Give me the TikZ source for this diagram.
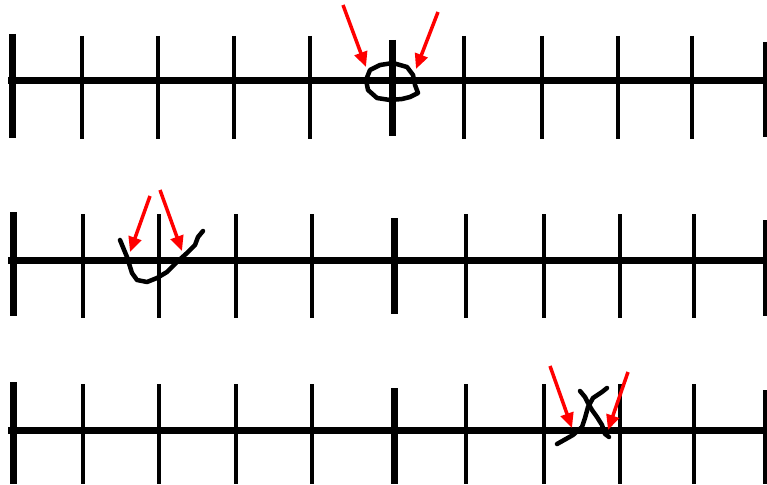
\documentclass[tikz,border=0pt]{standalone}
\usetikzlibrary{arrows.meta}
\tikzset{
  axisline/.style={line width=7pt},
  bigtick/.style={line width=7pt},
  smalltick/.style={line width=4pt},
  scribble/.style={line width=4.5pt, line join=round, line cap=round},
  redarrow/.style={draw=red, line width=3.5pt, -{Triangle[length=15pt,width=13pt]}, shorten >=0pt}
}
\begin{document}
\begin{tikzpicture}[x=1pt,y=-1pt]
\useasboundingbox (0,0) rectangle (767,484);
% Row 1
\draw[axisline] (8,81) -- (767,81);
\draw[bigtick] (12,34) -- (12,138);
\foreach \x in {82,158,234,310,464,542,618,692}{\draw[smalltick] (\x,36) -- (\x,139);}
\draw[bigtick] (392,40) -- (392,136);
\draw[smalltick] (765,42) -- (765,137);
\draw[scribble] (418,93) -- (410,97) -- (402,99) -- (390,100) -- (377,98) -- (368,90) -- (366,80) -- (370,70) -- (380,65) -- (393,63) -- (407,67) -- (413,75) -- (415,85) -- (418,93);
\draw[redarrow] (343,5) -- (366,67);
\draw[redarrow] (438,12) -- (416,69);
% Row 2
\draw[axisline] (8,260) -- (767,260);
\draw[bigtick] (13,212) -- (13,316);
\foreach \x in {83,159,236,312,466,544,620,694}{\draw[smalltick] (\x,214) -- (\x,318);}
\draw[bigtick] (394,218) -- (394,314);
\draw[smalltick] (765,220) -- (765,316);
\draw[scribble] (120,240) -- (127,257) -- (132,273) -- (137,280) -- (147,282) -- (157,278) -- (167,272) -- (177,262) -- (187,253) -- (195,245) -- (198,237) -- (203,231);
\draw[redarrow] (150,196) -- (130,252);
\draw[redarrow] (160,190) -- (182,251);
% Row 3
\draw[axisline] (8,430) -- (767,430);
\draw[bigtick] (13,382) -- (13,484);
\foreach \x in {83,159,236,312,466,544,620,694}{\draw[smalltick] (\x,384) -- (\x,484);}
\draw[bigtick] (394,388) -- (394,484);
\draw[smalltick] (765,390) -- (765,484);
\draw[scribble] (557,444) -- (573,435) -- (582,427) -- (585,418) -- (588,407) -- (593,398) -- (602,392) -- (607,388);
\draw[scribble] (580,391) -- (585,397) -- (588,403) -- (592,410) -- (597,417) -- (602,425) -- (605,434) -- (609,437);
\draw[redarrow] (550,366) -- (572,428);
\draw[redarrow] (628,372) -- (608,430);
\end{tikzpicture}
\end{document}
